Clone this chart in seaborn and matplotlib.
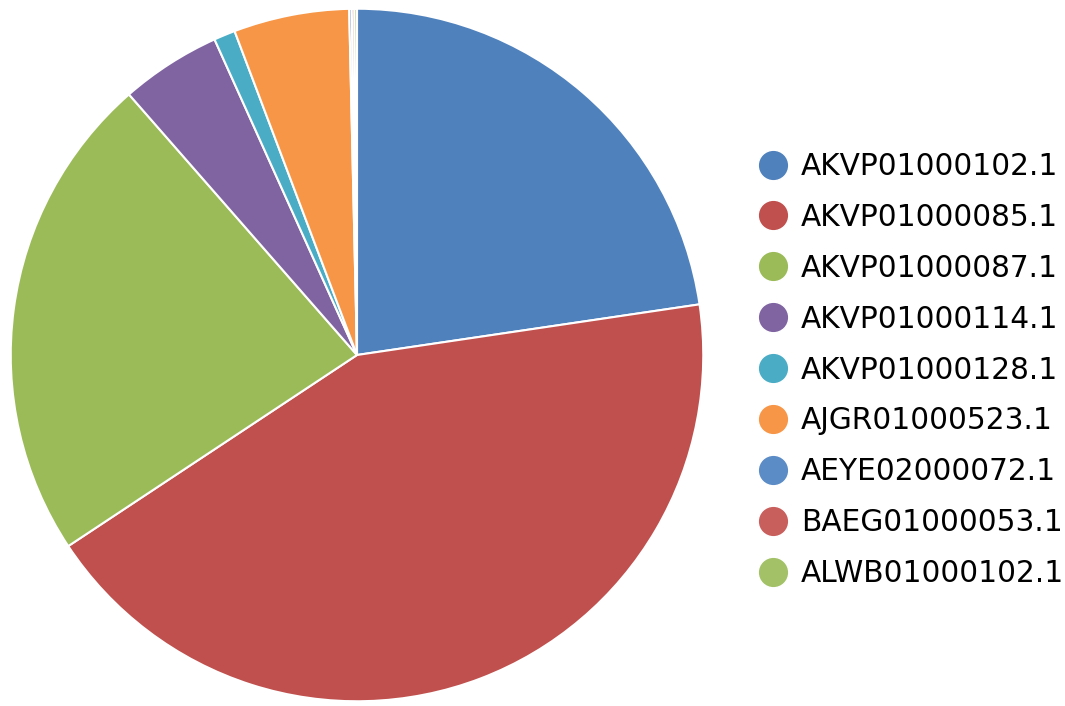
import matplotlib
matplotlib.use("Agg")
import matplotlib.pyplot as plt
from matplotlib.lines import Line2D
import seaborn as sns

# slice labels and shares (percent), clockwise from 12 o'clock
labels = ["AKVP01000102.1", "AKVP01000085.1", "AKVP01000087.1", "AKVP01000114.1",
          "AKVP01000128.1", "AJGR01000523.1", "AEYE02000072.1", "BAEG01000053.1",
          "ALWB01000102.1"]
shares = [22.7, 43.1, 22.9, 4.7, 1.0, 5.4, 0.12, 0.12, 0.12]
colors = ["#4F81BD", "#C0504D", "#9BBB59", "#8064A2", "#4BACC6", "#F79646",
          "#5C8CC6", "#C95F5C", "#A3C267"]

sns.set_theme(style="white")
plt.rcParams["font.family"] = ["DejaVu Sans"]

fig = plt.figure(figsize=(10.65, 7.06), dpi=100)
ax = fig.add_axes([9 / 1065, 3 / 706, 696 / 1065, 696 / 706])

ax.pie(shares, colors=colors, startangle=90, counterclock=False, radius=1,
       wedgeprops=dict(edgecolor="white", linewidth=1.5))
ax.set_xlim(-1.005, 1.005)
ax.set_ylim(-1.005, 1.005)
ax.set_aspect("equal")
ax.axis("off")

handles = [Line2D([0], [0], marker="o", linestyle="", markersize=22,
                  markerfacecolor=c, markeredgecolor="white", markeredgewidth=1)
           for c in colors]
leg = fig.legend(handles, labels, loc="center left",
                 bbox_to_anchor=(742 / 1065, 336 / 706),
                 frameon=False, fontsize=21.3, labelspacing=0.74, handletextpad=0.4,
                 handlelength=1.1, borderpad=0)
for t in leg.get_texts():
    t.set_color("black")

fig.savefig("out.png", dpi=100, facecolor="white")
